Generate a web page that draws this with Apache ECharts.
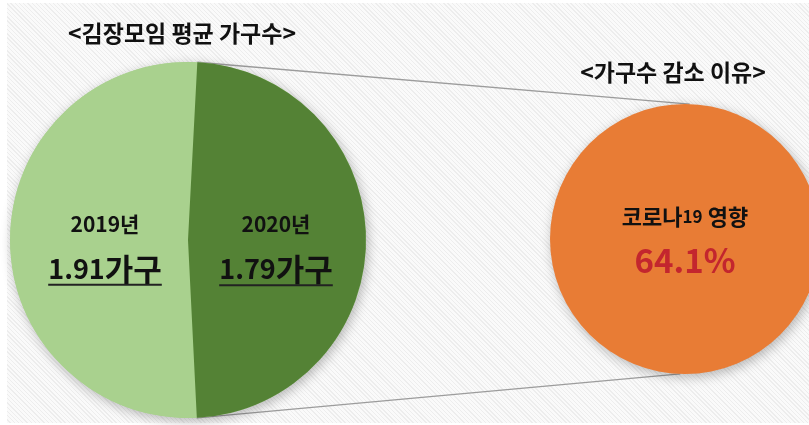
<!DOCTYPE html>
<html>
<head>
<meta charset="utf-8">
<script src="https://cdn.jsdelivr.net/npm/echarts@6/dist/echarts.min.js"></script>
<style>
  html, body { margin: 0; padding: 0; background: #fff; }
  #wrap { position: relative; width: 809px; height: 425px; }
  #bg {
    position: absolute; left: 7px; top: 3px; right: 0; bottom: 2px;
    background: repeating-linear-gradient(45deg, #fafafa 0px, #fafafa 2px, #ededed 2px, #ededed 3px);
  }
  #chart { position: absolute; left: 0; top: 0; width: 809px; height: 425px; }
</style>
</head>
<body>
<div id="wrap">
  <div id="bg"></div>
  <div id="chart"></div>
</div>
<script>
// 데이터
const categories = ['2019년', '2020년'];
const households = [1.91, 1.79];
const unit = '가구';
const reasonLabel = ['코로나', '19', ' 영향'];
const reasonShare = [64.1];
const titles = ['<김장모임 평균 가구수>', '<가구수 감소 이유>'];

const FONT = '"Noto Sans CJK KR", "Noto Sans", sans-serif';
const leftPie = { cx: 188, cy: 240, r: 178, start: 87 };
const rightPie = { cx: 685, cy: 239, r: 135 };
const shadow = {
  shadowBlur: 12,
  shadowColor: 'rgba(0,0,0,0.28)',
  shadowOffsetX: 2,
  shadowOffsetY: 3,
};

// 라벨 글자 스타일
const numSize = 27;
const unitSize = 31;
const richLeft = {
  y: { fontFamily: FONT, fontSize: 21, fontWeight: 'bold', color: '#111', lineHeight: 60 },
  n: { fontFamily: FONT, fontSize: numSize, fontWeight: 'bold', color: '#111', lineHeight: 30 },
  u: { fontFamily: FONT, fontSize: unitSize, fontWeight: 'bold', color: '#111', lineHeight: 30 },
};

// 밑줄 너비 계산용
const ctx = document.createElement('canvas').getContext('2d');
function textWidth(str, size, weight) {
  ctx.font = `${weight} ${size}px ${FONT}`;
  return ctx.measureText(str).width;
}

// 왼쪽 원의 경계점 -> 오른쪽 원 연결선
const total = households.reduce((a, b) => a + b, 0);
const endAngle = leftPie.start + (households[0] / total) * 360;
function pt(p, deg) {
  const rad = (deg * Math.PI) / 180;
  return [p.cx + p.r * Math.cos(rad), p.cy - p.r * Math.sin(rad)];
}
const lineTop = [pt(leftPie, leftPie.start), pt(rightPie, 88)];
const lineBottom = [pt(leftPie, endAngle), pt(rightPie, -92)];

const chart = echarts.init(document.getElementById('chart'), null, { renderer: 'canvas' });

const option = {
  animation: false,
  backgroundColor: 'transparent',
  title: [
    {
      text: titles[0],
      left: 177,
      top: 17,
      textAlign: 'center',
      textStyle: { fontFamily: FONT, fontSize: 23, fontWeight: 'bold', color: '#111' },
    },
    {
      text: titles[1],
      left: 668,
      top: 56,
      textAlign: 'center',
      textStyle: { fontFamily: FONT, fontSize: 23, fontWeight: 'bold', color: '#111' },
    },
  ],
  graphic: [lineTop, lineBottom].map((l) => ({
    type: 'line',
    z: 0,
    silent: true,
    shape: { x1: l[0][0], y1: l[0][1], x2: l[1][0], y2: l[1][1] },
    style: { stroke: '#9c9c9c', lineWidth: 1.3 },
  })),
  series: [
    // 그림자 바탕
    {
      type: 'pie',
      silent: true,
      z: 1,
      center: [leftPie.cx, leftPie.cy],
      radius: leftPie.r,
      label: { show: false },
      itemStyle: { color: '#a9d18e', ...shadow },
      data: [{ value: 1 }],
    },
    {
      type: 'pie',
      z: 2,
      center: [leftPie.cx, leftPie.cy],
      radius: leftPie.r,
      startAngle: leftPie.start,
      clockwise: false,
      silent: true,
      labelLine: { show: false },
      label: {
        show: true,
        position: 'inside',
        formatter: (p) => `{y|${p.name}}\n{n|${p.value}}{u|${unit}}\n{ul|}`,
      },
      labelLayout: (p) => ({ dx: p.dataIndex === 0 ? 9 : -4, dy: 0 }),
      data: categories.map((name, i) => {
        const w = textWidth(String(households[i]), numSize, 'bold') + textWidth(unit, unitSize, 'bold');
        return {
          name,
          value: households[i],
          itemStyle: { color: i === 0 ? '#a9d18e' : '#548235' },
          label: {
            rich: {
              ...richLeft,
              ul: { width: w, height: 2, lineHeight: 2, backgroundColor: '#222' },
            },
          },
        };
      }),
    },
    {
      type: 'pie',
      z: 2,
      silent: true,
      center: [rightPie.cx, rightPie.cy],
      radius: rightPie.r,
      labelLine: { show: false },
      itemStyle: { color: '#e87c35', ...shadow },
      label: {
        show: true,
        position: 'center',
        formatter: (p) =>
          `{a|${reasonLabel[0]}}{s|${reasonLabel[1]}}{a|${reasonLabel[2]}}\n{p|${p.value}%}`,
        rich: {
          a: { fontFamily: FONT, fontSize: 22, fontWeight: 'bold', color: '#111', lineHeight: 42 },
          s: { fontFamily: FONT, fontSize: 17, fontWeight: 'bold', color: '#111', lineHeight: 42 },
          p: { fontFamily: FONT, fontSize: 33, fontWeight: 'bold', color: '#c3262e', lineHeight: 44 },
        },
      },
      data: reasonShare.map((v) => ({ name: reasonLabel.join(''), value: v })),
    },
  ],
};

chart.setOption(option);
</script>
</body>
</html>
